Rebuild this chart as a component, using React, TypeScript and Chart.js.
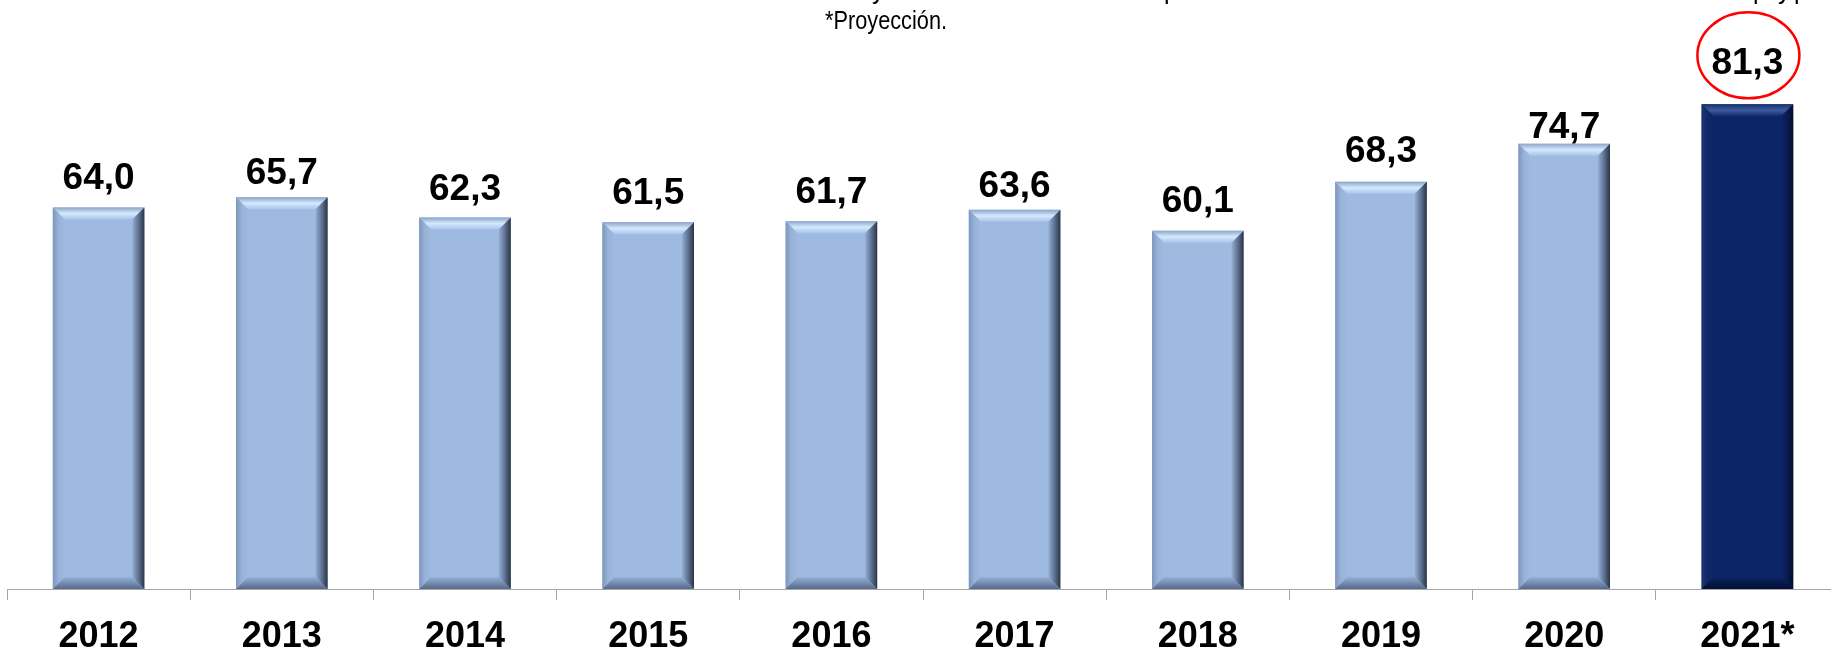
import { useEffect, useRef } from "react";
import { Chart, registerables } from "chart.js";

Chart.register(...registerables);

// ---- data ----
const years = ["2012", "2013", "2014", "2015", "2016", "2017", "2018", "2019", "2020", "2021*"];
const values = [64.0, 65.7, 62.3, 61.5, 61.7, 63.6, 60.1, 68.3, 74.7, 81.3];
const valueLabels = ["64,0", "65,7", "62,3", "61,5", "61,7", "63,6", "60,1", "68,3", "74,7", "81,3"];
const footnote = "*Proyección.";
const highlightedIndex = 9;

// ---- style ----
const FONT = '"Liberation Sans", Arial, sans-serif';
const NARROW = '"Liberation Sans Narrow", "Liberation Sans", Arial, sans-serif';
const labelGaps = [18, 13, 18, 18, 18, 13, 19, 20, 6, 30];
const BEVEL = 12;

const lightSet = {
  base: "#9EBAE1",
  top: ["#8CA6C9", "#D3E9FD", "#A9C4E9"],
  right: ["#93AED3", "#5F7393", "#2A3445"],
  bottom: ["#95B0D6", "#758DB0", "#56698A"],
  left: ["#7E96BA", "#98B3DA", "#9EBAE1"],
};
const darkSet = {
  base: "#0C2566",
  top: ["#1A3270", "#3C5C9F", "#12296A"],
  right: ["#0C2566", "#081B50", "#030E2E"],
  bottom: ["#0C2566", "#08194A", "#041034"],
  left: ["#1C3575", "#0F2868", "#0C2566"],
};

function grad(ctx: CanvasRenderingContext2D, x0: number, y0: number, x1: number, y1: number, stops: string[]) {
  const g = ctx.createLinearGradient(x0, y0, x1, y1);
  const n = stops.length;
  stops.forEach((c, i) => g.addColorStop(i / (n - 1), c));
  return g;
}

function poly(ctx: CanvasRenderingContext2D, pts: number[][], fill: CanvasGradient | string) {
  ctx.beginPath();
  ctx.moveTo(pts[0][0], pts[0][1]);
  for (let i = 1; i < pts.length; i++) ctx.lineTo(pts[i][0], pts[i][1]);
  ctx.closePath();
  ctx.fillStyle = fill;
  ctx.fill();
}

const bevelPlugin = {
  id: "bevel",
  afterDatasetsDraw(chart: any) {
    const ctx: CanvasRenderingContext2D = chart.ctx;
    const meta = chart.getDatasetMeta(0);
    meta.data.forEach((bar: any, i: number) => {
      const p = bar.getProps(["x", "y", "base", "width"], true);
      const l = p.x - p.width / 2;
      const r = p.x + p.width / 2;
      const t = p.y;
      const b = p.base;
      const s = BEVEL;
      const set = i === highlightedIndex ? darkSet : lightSet;
      ctx.save();
      poly(ctx, [[l, t], [r, t], [r - s, t + s], [l + s, t + s]], grad(ctx, 0, t, 0, t + s, set.top));
      poly(ctx, [[l, t], [l + s, t + s], [l + s, b - s], [l, b]], grad(ctx, l, 0, l + s, 0, set.left));
      poly(ctx, [[l, b], [l + s, b - s], [r - s, b - s], [r, b]], grad(ctx, 0, b - s, 0, b, set.bottom));
      poly(ctx, [[r, t], [r, b], [r - s, b - s], [r - s, t + s]], grad(ctx, r - s, 0, r, 0, set.right));
      ctx.restore();
    });
  },
};

const labelPlugin = {
  id: "valueLabels",
  afterDraw(chart: any) {
    const ctx: CanvasRenderingContext2D = chart.ctx;
    const meta = chart.getDatasetMeta(0);
    ctx.save();
    ctx.fillStyle = "#000";
    ctx.font = `bold 37px ${FONT}`;
    ctx.textAlign = "center";
    ctx.textBaseline = "alphabetic";
    meta.data.forEach((bar: any, i: number) => {
      const baseline = bar.y - labelGaps[i];
      ctx.fillText(valueLabels[i], bar.x, baseline);
      if (i === highlightedIndex) {
        ctx.beginPath();
        ctx.ellipse(bar.x + 1, baseline - 19, 51, 43, 0, 0, Math.PI * 2);
        ctx.strokeStyle = "#FF0000";
        ctx.lineWidth = 2.5;
        ctx.stroke();
      }
    });

    // footnote
    ctx.font = `25px ${NARROW}`;
    ctx.textAlign = "left";
    const w = ctx.measureText(footnote).width;
    ctx.save();
    ctx.translate(825, 29);
    ctx.scale(122 / w, 1);
    ctx.fillText(footnote, 0, 0);
    ctx.restore();

    // cut-off line of text above the footnote (only descenders visible)
    const frag: [string, number][] = [["y", 872], ["p", 1164], ["p", 1753], ["y", 1778], ["p", 1794]];
    frag.forEach(([c, x]) => ctx.fillText(c, x, -1));
    ctx.restore();
  },
};

export default function App() {
  const ref = useRef<HTMLCanvasElement | null>(null);
  useEffect(() => {
    if (!ref.current) return;
    const chart = new Chart(ref.current, {
      type: "bar",
      data: {
        labels: years,
        datasets: [
          {
            data: values,
            backgroundColor: values.map((_, i) => (i === highlightedIndex ? darkSet.base : lightSet.base)),
            borderWidth: 0,
            categoryPercentage: 1,
            barPercentage: 0.5,
          },
        ],
      },
      options: {
        animation: false,
        responsive: false,
        devicePixelRatio: 1,
        layout: { padding: { left: 7, right: 6, top: 0, bottom: 0 } },
        plugins: { legend: { display: false }, tooltip: { enabled: false }, title: { display: false } },
        scales: {
          y: { display: false, min: 0, max: 98.8 },
          x: {
            offset: true,
            grid: { display: true, drawOnChartArea: false, drawTicks: true, tickLength: 11, color: "#A6A6A6", offset: true, lineWidth: 1 },
            border: { display: true, color: "#A6A6A6", width: 1 },
            ticks: {
              color: "#000",
              font: { family: FONT, size: 36, weight: "bold" },
              padding: 15,
              maxRotation: 0,
              autoSkip: false,
            },
            afterFit: (s: any) => {
              s.height = 60;
            },
          },
        },
      },
      plugins: [bevelPlugin, labelPlugin],
    });
    return () => chart.destroy();
  }, []);

  return (
    <div style={{ position: "fixed", left: 0, top: 0, width: 1831, height: 649, overflow: "hidden", background: "#fff" }}>
      <canvas ref={ref} width={1845} height={649} style={{ width: 1845, height: 649, display: "block" }} />
    </div>
  );
}
